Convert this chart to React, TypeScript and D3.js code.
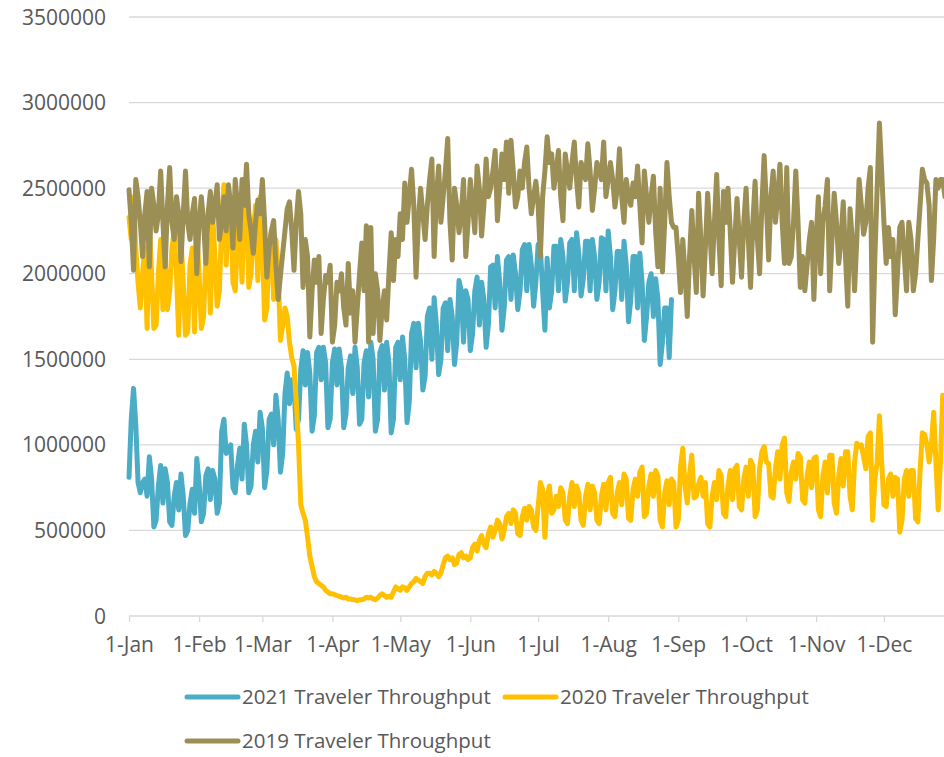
import React, { useEffect, useRef } from 'react';
import * as d3 from 'd3';

// x axis: day of year (0 = 1-Jan), one tick at each month start
const monthStarts = [0, 31, 59, 90, 120, 151, 181, 212, 243, 273, 304, 334];
const monthLabels = ['1-Jan', '1-Feb', '1-Mar', '1-Apr', '1-May', '1-Jun', '1-Jul', '1-Aug', '1-Sep', '1-Oct', '1-Nov', '1-Dec'];
const yTicks = [0, 500000, 1000000, 1500000, 2000000, 2500000, 3000000, 3500000];

const seriesNames = ['2021 Traveler Throughput', '2020 Traveler Throughput', '2019 Traveler Throughput'];
const seriesColors = ['#4BACC6', '#FFC000', '#9C8F55'];

// daily checkpoint throughput, in thousands
const throughput2021 = [
    810, 1150,
    1330, 1120, 780, 720, 780, 800, 700,
    930, 800, 520, 560, 760, 880, 660,
    860, 780, 550, 530, 700, 780, 620,
    830, 700, 470, 500, 660, 740, 600,
    920, 780, 550, 600, 820, 860, 680,
    850, 800, 600, 660, 1080, 1150, 950,
    980, 1000, 750, 720, 880, 980, 800,
    1120, 1000, 720, 760, 1000, 1080, 900,
    1190, 1100, 750, 850, 1150, 1180, 1000,
    1290, 1150, 840, 950, 1300, 1420, 1240,
    1380, 1350, 1090, 1150, 1440, 1550, 1350,
    1540, 1420, 1080, 1170, 1540, 1570, 1380,
    1570, 1480, 1100, 1150, 1480, 1560, 1350,
    1560, 1450, 1100, 1180, 1450, 1520, 1300,
    1570, 1450, 1120, 1150, 1480, 1550, 1280,
    1600, 1500, 1080, 1150, 1540, 1580, 1320,
    1600, 1480, 1070, 1150, 1570, 1600, 1380,
    1630, 1500, 1130, 1250, 1650, 1710, 1450,
    1710, 1600, 1320, 1400, 1750, 1800, 1500,
    1860, 1700, 1410, 1500, 1800, 1830, 1550,
    1850, 1750, 1470, 1600, 1960, 1900, 1600,
    1900, 1850, 1550, 1650, 1900, 1980, 1700,
    1950, 1850, 1570, 1700, 2040, 2050, 1800,
    2100, 1950, 1670, 1800, 2080, 2100, 1850,
    2110, 2000, 1790, 1900, 2140, 2170, 1900,
    2170, 2050, 1810, 1950, 2170, 2150, 1900,
    1670, 2090, 1800, 1900, 2160, 2160, 1900,
    2200, 2100, 1840, 1950, 2180, 2200, 1900,
    2240, 2120, 1870, 1970, 2190, 2190, 1900,
    2200, 2100, 1850, 1950, 2210, 2200, 1900,
    2250, 2100, 1790, 1900, 2130, 2130, 1850,
    2190, 2050, 1720, 1850, 2100, 2100, 1800,
    2120, 1950, 1610, 1750, 1950, 2000, 1750,
    1970, 1850, 1470, 1600, 1800, 1800, 1510,
    1850
];

const throughput2020 = [
    2330, 2200, 2450, 2150, 1950, 1800, 2000,
    2150, 1680, 2300, 2000, 1680, 1700, 2000,
    2200, 1790, 2100, 1790, 1900, 2150, 2250,
    2000, 1640, 2200, 1950, 1640, 1660, 2050,
    2150, 1660, 2250, 2000, 1680, 1750, 2100,
    2200, 1770, 2350, 2100, 1810, 1900, 2300,
    2520, 2050, 2450, 2350, 1950, 1900, 2200,
    2350, 1950, 2400, 2450, 1920, 2000, 2250,
    2400, 1960, 2450, 2200, 1730, 1800, 2150,
    2250, 1850, 2200, 2000, 1610, 1700, 1800,
    1750, 1600, 1510, 1460, 1250, 1000, 650,
    600, 560, 460, 350, 290, 230, 200,
    190, 180, 170, 150, 140, 130, 130,
    125, 120, 115, 110, 105, 110, 100,
    100, 95, 95, 90, 95, 95, 100,
    110, 105, 110, 100, 95, 105, 120,
    130, 120, 110, 115, 110, 140, 170,
    160, 150, 170, 165, 150, 170, 190,
    200, 220, 210, 200, 190, 230, 250,
    250, 240, 260, 250, 230, 250, 300,
    340, 350, 330, 340, 300, 310, 360,
    370, 340, 350, 330, 340, 400, 420,
    380, 440, 470, 420, 400, 480, 520,
    460, 500, 560, 540, 450, 500, 580,
    600, 540, 620, 600, 480, 470, 580,
    630, 560, 640, 620, 520, 500, 640,
    780, 740, 460, 700, 760, 600, 620,
    700, 640, 750, 720, 560, 540, 700,
    780, 640, 760, 720, 560, 530, 700,
    770, 620, 760, 720, 560, 540, 700,
    770, 620, 780, 810, 600, 580, 720,
    780, 650, 830, 800, 570, 560, 740,
    800, 700, 840, 870, 580, 600, 760,
    830, 700, 850, 820, 560, 520, 720,
    790, 650, 800, 780, 520, 560, 870,
    980, 760, 660, 830, 940, 690, 700,
    770, 810, 700, 780, 540, 520, 700,
    780, 680, 850, 820, 600, 580, 760,
    850, 680, 860, 880, 640, 620, 800,
    870, 700, 910, 880, 580, 620, 860,
    960, 990, 900, 890, 700, 690, 860,
    960, 800, 1000, 1040, 720, 670, 840,
    900, 800, 950, 930, 680, 660, 820,
    900, 750, 920, 930, 620, 580, 820,
    900, 720, 940, 940, 660, 600, 820,
    920, 760, 960, 960, 700, 620, 900,
    1010, 990, 1000, 930, 860, 1050, 1070,
    560, 800, 900, 1170, 900, 650, 640,
    800, 830, 700, 810, 800, 490, 560,
    800, 850, 700, 850, 850, 570, 550,
    850, 1070, 1060, 1000, 900, 1000, 1190,
    900, 620, 900, 1290, 1200, 1100
];

const throughput2019 = [
    2490, 2300, 2020, 2550, 2450, 2300, 2100,
    2350, 2480, 2040, 2500, 2400, 2250, 2350,
    2600, 2300, 2040, 2400, 2620, 2300, 2200,
    2450, 2350, 2070, 2350, 2600, 2300, 2200,
    2350, 2440, 2000, 2300, 2450, 2300, 2060,
    2350, 2480, 2300, 2400, 2520, 2200, 2300,
    2450, 2250, 2520, 2400, 2150, 2550, 2400,
    2200, 2550, 2400, 2640, 2350, 2250, 2120,
    2300, 2430, 2350, 2550, 2300, 1980, 2150,
    2250, 2310, 2050, 1850, 1990, 2120, 2250,
    2380, 2420, 2250, 2020, 2300, 2480, 2350,
    1920, 2200, 2100, 1630, 1900, 2080, 1950,
    2100, 1650, 1850, 1990, 1950, 2050, 1600,
    1700, 1950, 1900, 2000, 1800, 1700, 2060,
    1770, 1900, 1600, 1800, 2000, 2180, 1900,
    2280, 1600, 2270, 1650, 2000, 1900, 1610,
    1800, 1900, 1730, 2000, 2240, 1960, 2200,
    2100, 2350, 2200, 2530, 2300, 2450, 2610,
    2400, 1980, 2300, 2500, 2350, 2200, 2400,
    2550, 2670, 2100, 2450, 2630, 2300, 2450,
    2600, 2790, 2300, 2080, 2500, 2400, 2240,
    2350, 2550, 2100, 2300, 2550, 2400, 2240,
    2630, 2500, 2220, 2400, 2670, 2450, 2500,
    2600, 2720, 2310, 2500, 2700, 2550, 2770,
    2470, 2780, 2600, 2390, 2450, 2600, 2500,
    2650, 2740, 2500, 2350, 2450, 2540, 2400,
    2100, 2450, 2600, 2800, 2650, 2700, 2500,
    2600, 2720, 2450, 2310, 2700, 2600, 2500,
    2650, 2770, 2550, 2390, 2650, 2600, 2550,
    2760, 2600, 2370, 2500, 2650, 2600, 2550,
    2770, 2450, 2550, 2650, 2550, 2390, 2500,
    2730, 2450, 2300, 2550, 2450, 2400, 2530,
    2450, 2630, 2400, 2180, 2600, 2450, 2300,
    2450, 2570, 2250, 2040, 2500, 2010, 2300,
    2650, 2450, 2300, 2270, 2270, 2100, 1890,
    2200, 2000, 1750, 2100, 2370, 2100, 1890,
    2470, 2200, 1870, 2150, 2470, 2250, 2000,
    2300, 2580, 2200, 1930, 2480, 2300, 2500,
    2250, 1950, 2200, 2440, 2200, 1980, 2300,
    2500, 2200, 1920, 2300, 2540, 2200, 2000,
    2400, 2690, 2400, 2080, 2450, 2600, 2300,
    2450, 2640, 2300, 2060, 2620, 2060, 2100,
    2300, 2600, 2300, 1920, 2100, 1900, 2050,
    2200, 2300, 1850, 2200, 2450, 2000, 2300,
    2400, 2550, 1900, 2200, 2470, 2300, 2060,
    2200, 2420, 2100, 1810, 2380, 2200, 1900,
    2200, 2550, 2400, 2230, 2300, 2500, 2620,
    1600, 2100, 2500, 2880, 2600, 2300, 2060,
    2270, 2100, 2200, 1760, 2000, 2270, 2300,
    2100, 1900, 2300, 2200, 1900, 2000, 2200,
    2400, 2610, 2550, 2530, 2400, 1960, 2200,
    2550, 2500, 2550, 2550, 2450, 2500
];

const allSeries = [throughput2021, throughput2020, throughput2019];

const width = 944;
const height = 757;
const font = '"Open Sans", sans-serif';
const textColor = '#595959';
const gridColor = '#D9D9D9';

export default function App() {
    const svgRef = useRef<SVGSVGElement>(null);

    useEffect(() => {
        const svg = d3.select(svgRef.current);
        svg.selectAll('*').remove();

        const xScale = d3.scaleLinear().domain([0, 365]).range([129, 954]);
        const yScale = d3.scaleLinear().domain([0, 3500000]).range([616, 17]);

        // horizontal gridlines
        svg.append('g')
            .selectAll('line')
            .data(yTicks.slice(1))
            .join('line')
            .attr('x1', xScale(0))
            .attr('x2', width)
            .attr('y1', d => yScale(d))
            .attr('y2', d => yScale(d))
            .attr('stroke', gridColor)
            .attr('stroke-width', 1.3);

        // y labels
        svg.append('g')
            .selectAll('text')
            .data(yTicks)
            .join('text')
            .attr('x', 106)
            .attr('y', d => yScale(d))
            .attr('dy', '0.36em')
            .attr('text-anchor', 'end')
            .style('font-family', font)
            .style('font-size', '21px')
            .attr('fill', textColor)
            .text(d => String(d));

        // x axis
        const xAxis = d3.axisBottom(xScale)
            .tickValues(monthStarts)
            .tickFormat((d, i) => monthLabels[i])
            .tickSize(6)
            .tickSizeOuter(0)
            .tickPadding(15);
        const axisG = svg.append('g')
            .attr('transform', `translate(0, ${yScale(0)})`)
            .call(xAxis);
        axisG.select('.domain')
            .attr('d', `M${xScale(0)},0H${width}`)
            .attr('stroke', gridColor)
            .attr('stroke-width', 1.3);
        axisG.selectAll('.tick line')
            .attr('stroke', gridColor)
            .attr('stroke-width', 1.3);
        axisG.selectAll('.tick text')
            .style('font-family', font)
            .style('font-size', '21px')
            .attr('fill', textColor);

        // series lines
        const line = d3.line<number>()
            .x((d, i) => xScale(i))
            .y(d => yScale(d * 1000));

        svg.append('g')
            .selectAll('path')
            .data(allSeries)
            .join('path')
            .attr('d', d => line(d))
            .attr('fill', 'none')
            .attr('stroke', (d, i) => seriesColors[i])
            .attr('stroke-width', 5)
            .attr('stroke-linejoin', 'round')
            .attr('stroke-linecap', 'round');

        // legend
        const legendPos = [[185, 697], [503, 697], [185, 741]];
        const legend = svg.append('g')
            .selectAll('g')
            .data(seriesNames)
            .join('g')
            .attr('transform', (d, i) => `translate(${legendPos[i][0]}, ${legendPos[i][1]})`);
        legend.append('line')
            .attr('x1', 2)
            .attr('x2', 53)
            .attr('stroke', (d, i) => seriesColors[i])
            .attr('stroke-width', 5)
            .attr('stroke-linecap', 'round');
        legend.append('text')
            .attr('x', 57)
            .attr('dy', '0.36em')
            .style('font-family', font)
            .style('font-size', '20.5px')
            .attr('fill', textColor)
            .text(d => d);
    }, []);

    return (
        <svg
            ref={svgRef}
            width={width}
            height={height}
            style={{ position: 'absolute', left: 0, top: 0, background: '#fff' }}
        />
    );
}
